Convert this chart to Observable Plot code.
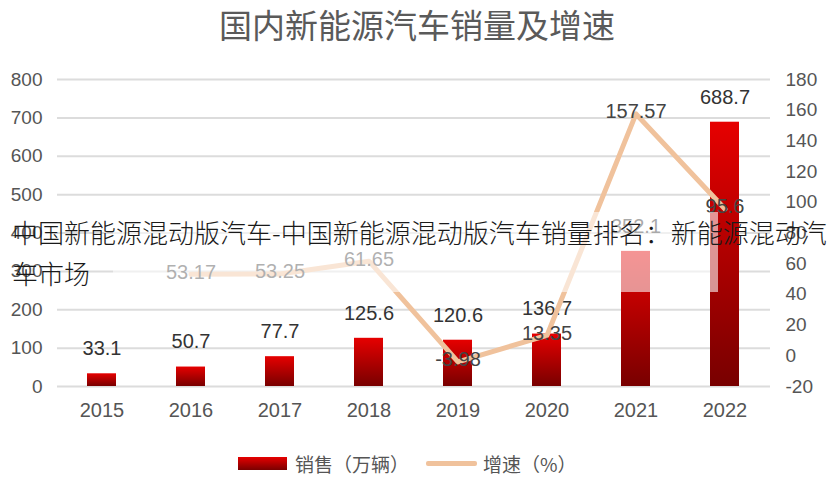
<!DOCTYPE html>
<html><head><meta charset="utf-8">
<script src="https://cdn.jsdelivr.net/npm/d3@7"></script>
<script src="https://cdn.jsdelivr.net/npm/@observablehq/plot@0.6"></script>
<style>
body{margin:0;background:#fff;width:834px;height:490px;overflow:hidden;position:relative;font-family:"Liberation Sans",Arial,sans-serif}
#title{position:absolute;left:0;top:0;width:834px;height:48px;line-height:48px;text-align:center;font-family:"Noto Sans CJK SC";font-size:33px;color:#5a5a5a}
#chart{position:absolute;left:0;top:50px}
#legend{position:absolute;left:238px;top:440px;height:46px;display:flex;align-items:center;font-family:"Noto Sans CJK SC";font-size:19px;color:#555;white-space:nowrap}
#legend .sw1{width:49px;height:13px;background:linear-gradient(#e60000,#7a0000);margin-right:8px}
#legend .sw2{width:51px;height:5px;background:#f0c29c;margin-left:17px;margin-right:6px;border-radius:2px}
#veil{position:absolute;left:113px;top:212px;width:605px;height:80px;background:rgba(255,255,255,0.58)}
#wm{position:absolute;left:12px;top:211px;font-family:"Noto Sans CJK SC";font-weight:300;font-size:26px;line-height:41px;color:#1a1a1a;white-space:nowrap}
</style></head>
<body>
<div id="title">国内新能源汽车销量及增速</div>
<div id="chart"></div>
<div id="veil"></div>
<div id="wm">中国新能源混动版汽车-中国新能源混动版汽车销量排名：新能源混动汽<br>车市场</div>
<div id="legend"><span class="sw1"></span><span>销售（万辆）</span><span class="sw2"></span><span>增速（%）</span></div>
<script>
const years = ["2015","2016","2017","2018","2019","2020","2021","2022"];
const sales = [33.1, 50.7, 77.7, 125.6, 120.6, 136.7, 352.1, 688.7];
const growth = [null, 53.17, 53.25, 61.65, -3.98, 13.35, 157.57, 95.6];
const leftTicks = [0,100,200,300,400,500,600,700,800];
const rightTicks = [-20,0,20,40,60,80,100,120,140,160,180];

const toLeft = v => (v + 20) * 4;
const rows = years.map((y,i)=>({year:y, sales:sales[i], growth:growth[i]}));
const lineRows = rows.filter(d => d.growth != null);

const plot = Plot.plot({
  width:834, height:390, marginTop:29, marginBottom:54, marginLeft:57, marginRight:64,
  style:{fontFamily:"Liberation Sans, Arial, sans-serif", fontSize:"19px", color:"#555", background:"transparent"},
  x:{domain:years, paddingInner:0.67, paddingOuter:0.335, axis:null},
  y:{domain:[0,800], axis:null},
  marks:[
    Plot.gridY(leftTicks, {stroke:"#dcdcdc", strokeOpacity:1, strokeWidth:2}),
    Plot.axisY(leftTicks, {anchor:"left", tickSize:0, tickPadding:15, fontSize:19, fill:"#555", label:null}),
    Plot.axisY(rightTicks.map(toLeft), {anchor:"right", tickSize:0, tickPadding:15, fontSize:19, fill:"#555", label:null, tickFormat: d => String(d/4 - 20)}),
    Plot.axisX({tickSize:0, tickPadding:16, fontSize:20, fill:"#555", label:null}),
    Plot.barY(rows, {x:"year", y:"sales", fill:"#c00"}),
    Plot.text(rows, {x:"year", y:"sales", text: d => String(d.sales), dy:-25, fontSize:20, fill:"#333"}),
    Plot.line(lineRows, {x:"year", y: d => toLeft(d.growth), stroke:"#f0c29c", strokeWidth:5, strokeLinejoin:"round"}),
    Plot.text(lineRows, {x:"year", y: d => toLeft(d.growth), text: d => String(d.growth), dy:-2, fontSize:20, fill:"#444"})
  ]
});
const svg = d3.select(plot);
const grad = svg.append("defs").append("linearGradient").attr("id","barGrad")
  .attr("x1",0).attr("y1",0).attr("x2",0).attr("y2",1);
grad.append("stop").attr("offset","0%").attr("stop-color","#e60000");
grad.append("stop").attr("offset","100%").attr("stop-color","#780000");
svg.selectAll("g[aria-label=bar]").attr("fill","url(#barGrad)");
svg.selectAll("g[aria-label=bar] rect").attr("fill","url(#barGrad)");
document.getElementById("chart").appendChild(plot);
</script>
</body></html>
